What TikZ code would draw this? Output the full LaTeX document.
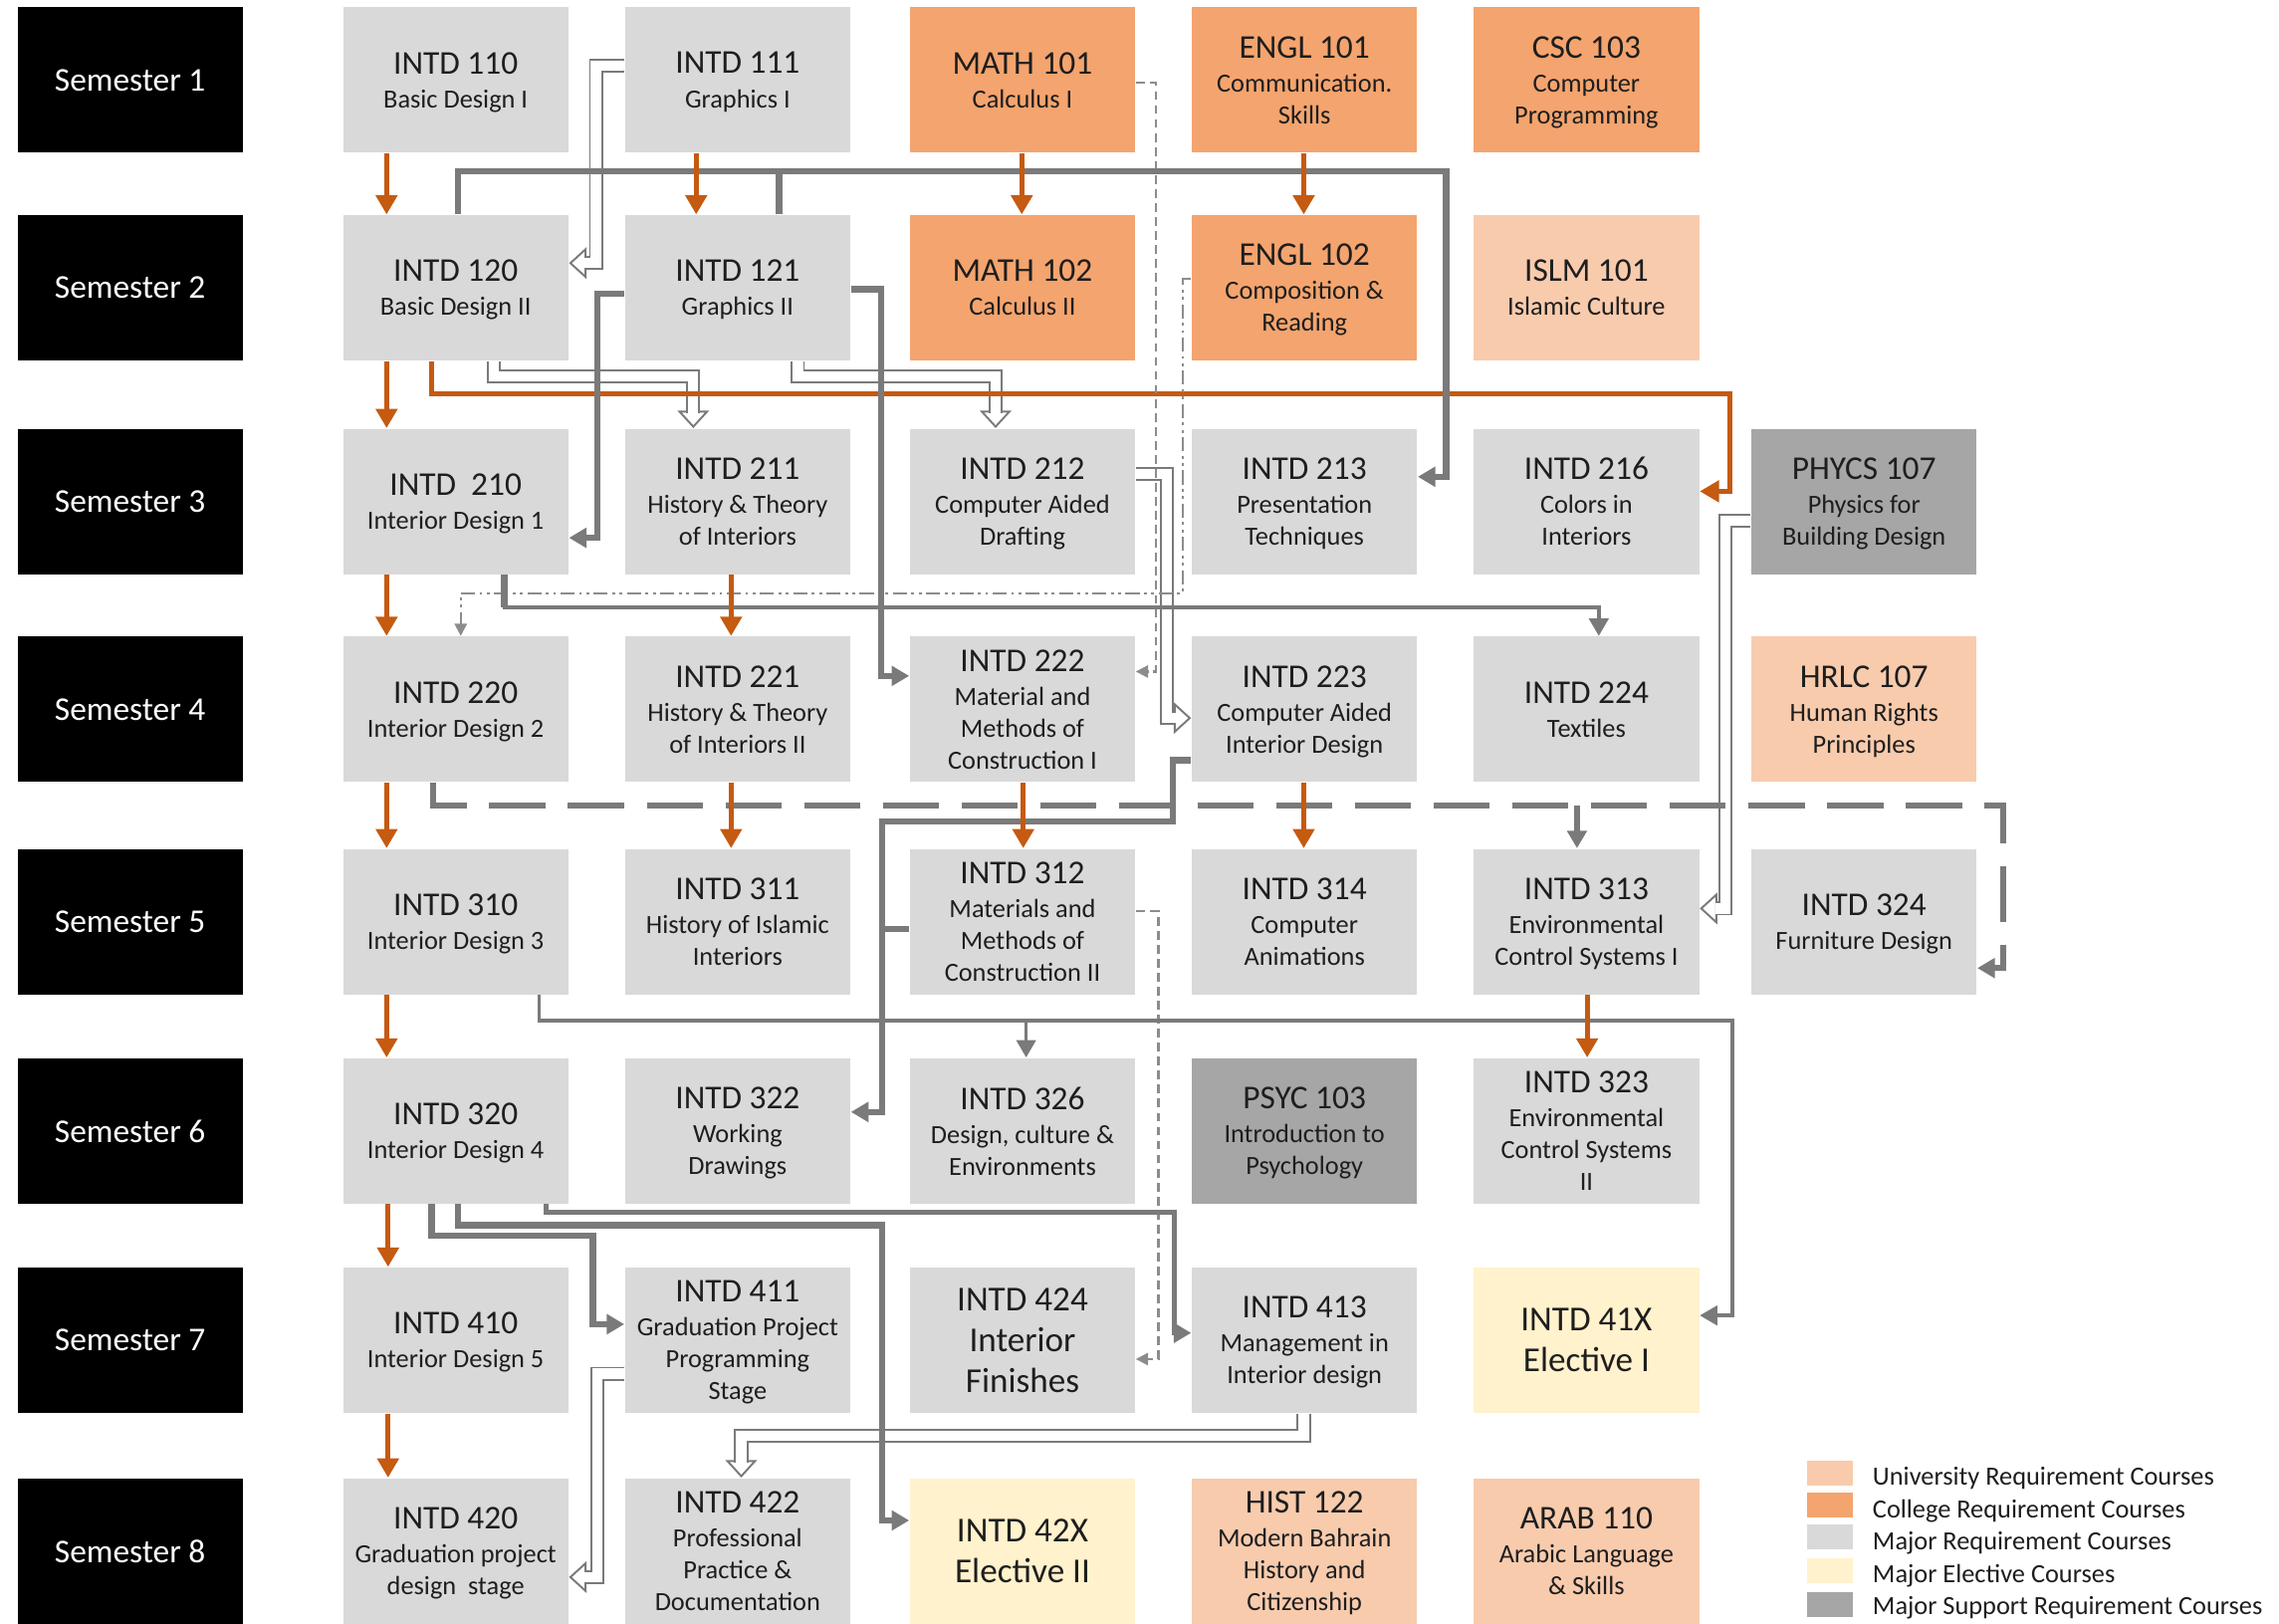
\documentclass[tikz,border=0pt]{standalone}
\usepackage{fontspec}
\setmainfont{Carlito}
\usetikzlibrary{arrows.meta,calc}
\definecolor{boxgray}{HTML}{D9D9D9}
\definecolor{college}{HTML}{F4A46E}
\definecolor{univ}{HTML}{F8CBAD}
\definecolor{elective}{HTML}{FFF2CC}
\definecolor{support}{HTML}{A6A6A6}
\definecolor{ocol}{HTML}{C55A11}
\definecolor{gcol}{HTML}{7A7A7A}
\definecolor{lgcol}{HTML}{8C8C8C}
\definecolor{txt}{HTML}{1E1E1E}
\newcommand\ctitle[1]{{\fontsize{9.5}{9.5}\selectfont #1}\\[0.6pt]}
\tikzset{
  course/.style={rectangle, minimum width=2.263cm, minimum height=1.46cm, inner sep=0pt,
    align=center, text=txt, text depth=0pt, font=\fontsize{7.5}{9.1}\selectfont},
  bigcourse/.style={course, font=\fontsize{10}{11.6}\selectfont},
  sem/.style={course, fill=black, text=white, font=\fontsize{9.5}{11}\selectfont},
  maj/.style={course, fill=boxgray},
  colreq/.style={course, fill=college},
  unireq/.style={course, fill=univ},
  elereq/.style={fill=elective},
  supreq/.style={course, fill=support},
  oarr/.style={draw=ocol, line width=1.5pt, -{Triangle[length=5.5pt,width=6pt]}},
  oline/.style={draw=ocol, line width=1.4pt, -{Triangle[length=5.5pt,width=6pt]}},
  garr/.style={-{Triangle[length=5pt,width=5.5pt]}},
  darr/.style={-{Triangle[length=3.5pt,width=3.5pt]}},
  gthick/.style={draw=gcol, line width=1.8pt},
  gmed/.style={draw=gcol, line width=1.4pt},
  gthin/.style={draw=gcol, line width=1.0pt},
  gdash/.style={draw=lgcol, line width=0.6pt, dash pattern=on 2.5pt off 1.5pt},
  gdashdot/.style={draw=lgcol, line width=0.6pt, dash pattern=on 4pt off 1.3pt on 0.8pt off 1.3pt on 0.8pt off 1.3pt},
  longdash/.style={draw=gcol, line width=1.8pt, dash pattern=on 16pt off 6.5pt},
  hollow/.style={draw=gcol, line width=0.55pt, double=white, double distance=2.9pt, shorten >=4.4pt},
  htip/.style={draw=gcol, line width=0.55pt, -{Triangle[length=5pt,width=9pt,fill=white]}},
  legsw/.style={rectangle, minimum width=0.467cm, minimum height=0.248cm, inner sep=0pt},
  legtx/.style={anchor=base west, inner sep=0pt, text=txt, font=\fontsize{7.5}{9}\selectfont}
}
\begin{document}
\begin{tikzpicture}[x=0.0146cm, y=-0.0146cm]
\useasboundingbox (0,0) rectangle (1568,1117);

% semester labels
\node[sem] (s1) at (89.5,55) {Semester 1};
\node[sem] (s2) at (89.5,198) {Semester 2};
\node[sem] (s3) at (89.5,345) {Semester 3};
\node[sem] (s4) at (89.5,488) {Semester 4};
\node[sem] (s5) at (89.5,634) {Semester 5};
\node[sem] (s6) at (89.5,778) {Semester 6};
\node[sem] (s7) at (89.5,922) {Semester 7};
\node[sem] (s8) at (89.5,1067) {Semester 8};

% row 1
\node[maj] (i110) at (313.5,55) {\ctitle{INTD 110}Basic Design I};
\node[maj] (i111) at (507.5,55) {\ctitle{INTD 111}Graphics I};
\node[colreq] (m101) at (703.5,55) {\ctitle{MATH 101}Calculus I};
\node[colreq] (e101) at (897.5,55) {\ctitle{ENGL 101}Communication.\\Skills};
\node[colreq] (c103) at (1091.5,55) {\ctitle{CSC 103}Computer\\Programming};
% row 2
\node[maj] (i120) at (313.5,198) {\ctitle{INTD 120}Basic Design II};
\node[maj] (i121) at (507.5,198) {\ctitle{INTD 121}Graphics II};
\node[colreq] (m102) at (703.5,198) {\ctitle{MATH 102}Calculus II};
\node[colreq] (e102) at (897.5,198) {\ctitle{ENGL 102}Composition \&\\Reading};
\node[unireq] (l101) at (1091.5,198) {\ctitle{ISLM 101}Islamic Culture};
% row 3
\node[maj] (i210) at (313.5,345) {\ctitle{INTD\ \ 210}Interior Design 1};
\node[maj] (i211) at (507.5,345) {\ctitle{INTD 211}History \& Theory\\of Interiors};
\node[maj] (i212) at (703.5,345) {\ctitle{INTD 212}Computer Aided\\Drafting};
\node[maj] (i213) at (897.5,345) {\ctitle{INTD 213}Presentation\\Techniques};
\node[maj] (i216) at (1091.5,345) {\ctitle{INTD 216}Colors in\\Interiors};
\node[supreq] (p107) at (1282.5,345) {\ctitle{PHYCS 107}Physics for\\Building Design};
% row 4
\node[maj] (i220) at (313.5,488) {\ctitle{INTD 220}Interior Design 2};
\node[maj] (i221) at (507.5,488) {\ctitle{INTD 221}History \& Theory\\of Interiors II};
\node[maj] (i222) at (703.5,488) {\ctitle{INTD 222}Material and\\Methods of\\Construction I};
\node[maj] (i223) at (897.5,488) {\ctitle{INTD 223}Computer Aided\\Interior Design};
\node[maj] (i224) at (1091.5,488) {\ctitle{INTD 224}Textiles};
\node[unireq] (h107) at (1282.5,488) {\ctitle{HRLC 107}Human Rights\\Principles};
% row 5
\node[maj] (i310) at (313.5,634) {\ctitle{INTD 310}Interior Design 3};
\node[maj] (i311) at (507.5,634) {\ctitle{INTD 311}History of Islamic\\Interiors};
\node[maj] (i312) at (703.5,634) {\ctitle{INTD 312}Materials and\\Methods of\\Construction II};
\node[maj] (i314) at (897.5,634) {\ctitle{INTD 314}Computer\\Animations};
\node[maj] (i313) at (1091.5,634) {\ctitle{INTD 313}Environmental\\Control Systems I};
\node[maj] (i324) at (1282.5,634) {\ctitle{INTD 324}Furniture Design};
% row 6
\node[maj] (i320) at (313.5,778) {\ctitle{INTD 320}Interior Design 4};
\node[maj] (i322) at (507.5,778) {\ctitle{INTD 322}Working\\Drawings};
\node[maj] (i326) at (703.5,778) {\ctitle{INTD 326}Design, culture \&\\Environments};
\node[supreq] (y103) at (897.5,778) {\ctitle{PSYC 103}Introduction to\\Psychology};
\node[maj] (i323) at (1091.5,778) {\ctitle{INTD 323}Environmental\\Control Systems\\II};
% row 7
\node[maj] (i410) at (313.5,922) {\ctitle{INTD 410}Interior Design 5};
\node[maj] (i411) at (507.5,922) {\ctitle{INTD 411}Graduation Project\\Programming\\Stage};
\node[maj, bigcourse] (i424) at (703.5,922) {INTD 424\\Interior\\Finishes};
\node[maj] (i413) at (897.5,922) {\ctitle{INTD 413}Management in\\Interior design};
\node[bigcourse, elereq] (i41x) at (1091.5,922) {INTD 41X\\Elective I};
% row 8
\node[maj] (i420) at (313.5,1067) {\ctitle{INTD 420}Graduation project\\design\ \ stage};
\node[maj] (i422) at (507.5,1067) {\ctitle{INTD 422}Professional\\Practice \&\\Documentation};
\node[bigcourse, elereq] (i42x) at (703.5,1067) {INTD 42X\\Elective II};
\node[unireq] (h122) at (897.5,1067) {\ctitle{HIST 122}Modern Bahrain\\History and\\Citizenship};
\node[unireq] (a110) at (1091.5,1067) {\ctitle{ARAB 110}Arabic Language\\\& Skills};

% legend
\node[legsw, fill=univ] (lg1) at (1259,1013.5) {};
\node[legsw, fill=college] (lg2) at (1259,1035.5) {};
\node[legsw, fill=boxgray] (lg3) at (1259,1057.5) {};
\node[legsw, fill=elective] (lg4) at (1259,1080.5) {};
\node[legsw, fill=support] (lg5) at (1259,1104) {};
\node[legtx] (lt1) at (1288,1022) {University Requirement Courses};
\node[legtx] (lt2) at (1288,1044) {College Requirement Courses};
\node[legtx] (lt3) at (1288,1066) {Major Requirement Courses};
\node[legtx] (lt4) at (1288,1089) {Major Elective Courses};
\node[legtx] (lt5) at (1288,1111) {Major Support Requirement Courses};

% junction coordinates
\coordinate (j213) at (536,118);
\coordinate (j313) at (1085,554);
\coordinate (j326) at (706,702);
\coordinate (j322) at (607,639);

% ---- hollow arrows
\draw[htip] (410,181) -- (i120.east |- 0,181);
\draw[hollow] (i111.west |- 0,45) -- (410,45) -- (410,181) -- (i120.east |- 0,181);
\draw[htip] (477,270) -- (i211.north -| 477,0);
\draw[hollow] (i120.south -| 340,0) -- (340,259) -- (477,259) -- (i211.north -| 477,0);
\draw[htip] (685,270) -- (i212.north -| 685,0);
\draw[hollow] (i121.south -| 549,0) -- (549,259) -- (685,259) -- (i212.north -| 685,0);
\draw[htip] (803,494) -- (i223.west |- 0,494);
\draw[hollow] (i212.east |- 0,326) -- (803,326) -- (803,494) -- (i223.west |- 0,494);
\draw[htip] (1187,625) -- (i313.east |- 0,625);
\draw[hollow] (p107.west |- 0,358) -- (1187,358) -- (1187,625) -- (i313.east |- 0,625);
\draw[htip] (411,1085) -- (i420.east |- 0,1085);
\draw[hollow] (i411.west |- 0,945) -- (411,945) -- (411,1085) -- (i420.east |- 0,1085);
\draw[htip] (510,1000) -- (i422.north -| 510,0);
\draw[hollow] (i413.south -| 897,0) -- (897,988) -- (510,988) -- (i422.north -| 510,0);

% ---- orange long connector
\draw[oline] (i120.south -| 297,0) -- (297,271) -- (1190,271) -- (1190,338) -- (i216.east |- 0,338);

% ---- thin dashed connectors
\draw[gdash, darr] (m101.east |- 0,57) -- (795,57) -- (795,462) -- (i222.east |- 0,462);
\draw[gdash, darr] (i312.east |- 0,627) -- (797,627) -- (797,935) -- (i424.east |- 0,935);
\draw[gdashdot, darr] (e102.west |- 0,192) -- (814,192) -- (814,408) -- (317,408) -- (i220.north -| 317,0);

% ---- gray connectors
\draw[gthick, garr] (i120.north -| 315,0) -- (315,118) -- (995,118) -- (995,328) -- (i213.east |- 0,328);
\draw[gthick] (i121.north -| 536,0) -- (j213);
\draw[gthick, garr] (i121.west |- 0,202) -- (411,202) -- (411,370) -- (i210.east |- 0,370);
\draw[gthick, garr] (i121.east |- 0,199) -- (606,199) -- (606,465) -- (i222.west |- 0,465);
\draw[gthin, garr] (i210.south -| 347,0) -- (347,418) -- (1100,418) -- (i224.north -| 1100,0);
\draw[gthick] (i210.south -| 347,0) -- (347,418);
\draw[longdash, garr] (i220.south -| 298,0) -- (298,554) -- (1378,554) -- (1378,666) -- (i324.east |- 0,666);
\draw[gthick, garr] (j313) -- (i313.north -| 1085,0);
\draw[gthick, garr] (i223.west |- 0,523) -- (807,523) -- (807,565) -- (607,565) -- (607,765) -- (i322.east |- 0,765);
\draw[gthick] (i312.west |- 0,639) -- (j322);
\draw[gthin, garr] (i310.south -| 371,0) -- (371,702) -- (1192,702) -- (1192,905) -- (i41x.east |- 0,905);
\draw[gthin, garr] (j326) -- (i326.north -| 706,0);
\draw[gthick, garr] (i320.south -| 297,0) -- (297,850) -- (408,850) -- (408,911) -- (i411.west |- 0,911);
\draw[gthick, garr] (i320.south -| 315,0) -- (315,843) -- (607,843) -- (607,1046) -- (i42x.west |- 0,1046);
\draw[gmed, garr] (i320.south -| 376,0) -- (376,834) -- (808,834) -- (808,917) -- (i413.west |- 0,917);

% ---- orange vertical arrows
\foreach \a/\b/\x in {i110/i120/266, i120/i210/266, i210/i220/266, i220/i310/266,
  i310/i320/266, i320/i410/267, i410/i420/267, i111/i121/479, i211/i221/503,
  i221/i311/503, m101/m102/703, i222/i312/704, e101/e102/897, i223/i314/897, i313/i323/1092}
  \draw[oarr] (\a.south -| \x,0) -- (\b.north -| \x,0);
\end{tikzpicture}
\end{document}
